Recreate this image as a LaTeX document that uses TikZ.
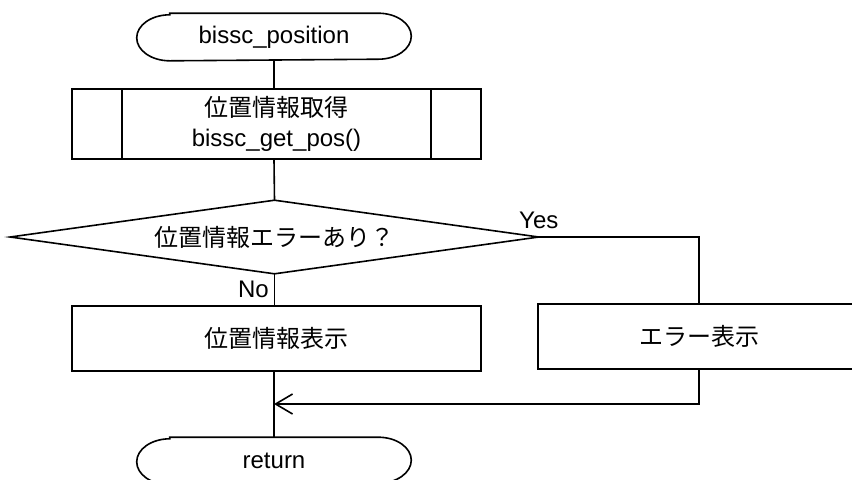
\documentclass[tikz,border=0pt]{standalone}
\usepackage{fontspec}
\setmainfont{Liberation Sans}
\newfontfamily\jp{Noto Sans CJK JP}
\usetikzlibrary{arrows.meta}

\begin{document}
\begin{tikzpicture}[x=0.5pt,y=-0.5pt,line width=0.8pt,
    every node/.style={font=\fontsize{12pt}{15pt}\selectfont,inner sep=0pt},
    terminal/.style={minimum width=136.5pt,minimum height=23pt},
    process/.style={draw,minimum width=204.5pt,minimum height=32.5pt},
    subproc/.style={draw,minimum width=204.5pt,minimum height=35pt,align=center},
    decision/.style={minimum width=263.5pt,minimum height=36pt}]
\useasboundingbox (0,0) rectangle (852,479);
\node[terminal] (start) at (274,37) {bissc\_position};
\node[subproc] (getpos) at (276.5,124) {{\jp 位置情報取得}\\bissc\_get\_pos()};
\node[decision] (poserr) at (274.5,237) {\jp 位置情報エラーあり？};
\node[process] (showpos) at (276.5,338.5) {\jp 位置情報表示};
\node[process,minimum width=161pt] (showerr) at (699,336.5) {\jp エラー表示};
\node[terminal] (ret) at (274,461) {return};
\coordinate (merge) at (274,404);
\foreach \n in {start,ret}
    \draw ([xshift=16.5pt]\n.north west) -- ([xshift=-16.5pt]\n.north east)
        arc[start angle=90,end angle=-90,x radius=16.5pt,y radius=11.5pt]
        -- ([xshift=16.5pt]\n.south west)
        arc[start angle=270,end angle=90,x radius=16.5pt,y radius=11.5pt] -- cycle;
\draw ([xshift=25.5pt]getpos.north west) -- ([xshift=25.5pt]getpos.south west)
      ([xshift=-25.5pt]getpos.north east) -- ([xshift=-25.5pt]getpos.south east);
\draw (poserr.west) -- (poserr.north) -- (poserr.east) -- (poserr.south) -- cycle;
\draw (start.south) -- (start.south |- getpos.north);
\draw (start.south |- getpos.south) -- (poserr.north);
\draw (poserr.south) -- (poserr.south |- showpos.north);
\draw (poserr.east) -| (showerr.north);
\draw (showpos.south -| merge) -- (ret.north);
\draw[-{Straight Barb[length=8.5pt,width=10pt]}] (showerr.south) |- (merge);
\node[anchor=south,yshift=3.5pt] (yes) at (poserr.east) {Yes};
\node[anchor=north east,xshift=-2.5pt,yshift=-3pt] (no) at (poserr.south) {No};
\end{tikzpicture}
\end{document}
